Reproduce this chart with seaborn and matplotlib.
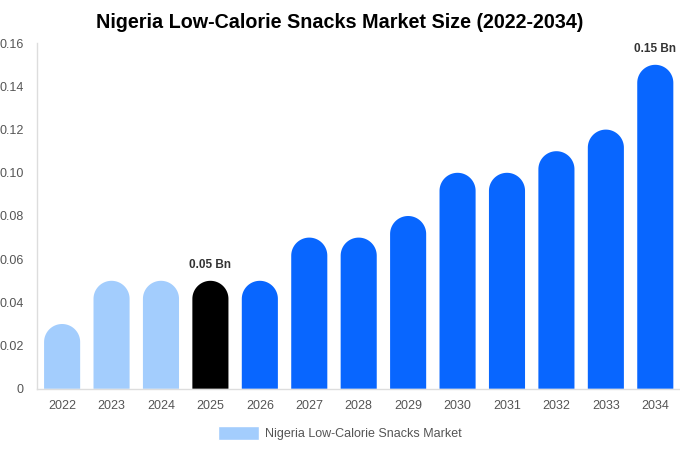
import numpy as np
import pandas as pd
import matplotlib
matplotlib.use('Agg')
import matplotlib.pyplot as plt
import seaborn as sns
from matplotlib.patches import Polygon, Patch
from matplotlib.ticker import FuncFormatter

years = ['2022', '2023', '2024', '2025', '2026', '2027', '2028',
         '2029', '2030', '2031', '2032', '2033', '2034']
values = [0.03, 0.05, 0.05, 0.05, 0.05, 0.07, 0.07, 0.08, 0.10, 0.10, 0.11, 0.12, 0.15]
labels = {'2025': '0.05 Bn', '2034': '0.15 Bn'}
series_name = 'Nigeria Low-Calorie Snacks Market'

light = '#a3cdfd'
dark = '#0866ff'
colors = [light] * 3 + ['#000000'] + [dark] * 9

df = pd.DataFrame({'year': years, 'value': values})

sns.set_style('white')
plt.rcParams['font.family'] = ['Liberation Sans', 'DejaVu Sans']

fig = plt.figure(figsize=(6.8, 4.5), dpi=100)
ax = fig.add_axes([0.055, 0.136, 0.945, 0.768])

sns.barplot(data=df, x='year', y='value', hue='year', palette=colors,
            legend=False, width=0.73, saturation=1, ax=ax)
ax.set_ylim(0, 0.16)
ax.set_xlim(-0.5, len(years) - 0.5)

# turn each seaborn bar into one shape with a semicircular top
fig.canvas.draw()
px_per_y = ax.transData.transform((0, 1))[1] - ax.transData.transform((0, 0))[1]
px_per_x = ax.transData.transform((1, 0))[0] - ax.transData.transform((0, 0))[0]
theta = np.linspace(0, np.pi, 60)
for p in list(ax.patches):
    x0 = p.get_x()
    w = p.get_width()
    h = p.get_height()
    r_x = w / 2
    r_y = (w * px_per_x / 2) / px_per_y
    cx = x0 + r_x
    cy = h - r_y
    arc = np.column_stack([cx + r_x * np.cos(theta), cy + r_y * np.sin(theta)])
    pts = np.vstack([[x0 + w, 0], arc, [x0, 0]])
    ax.add_patch(Polygon(pts, closed=True, facecolor=p.get_facecolor(), linewidth=0))
    p.remove()

for i, y in enumerate(years):
    if y in labels:
        ax.text(i, values[i] + 0.0045, labels[y], ha='center', va='bottom',
                fontsize=8.5, fontweight='bold', color='#333333')

ax.yaxis.set_major_formatter(FuncFormatter(lambda v, _: '0' if v == 0 else f'{v:.2f}'))
ax.set_yticks(np.arange(0, 0.161, 0.02))
ax.tick_params(axis='both', labelsize=9, colors='#555555', length=0)
ax.tick_params(axis='y', pad=10)
ax.tick_params(axis='x', pad=8)
ax.set_xlabel('')
ax.set_ylabel('')
for s in ['top', 'right']:
    ax.spines[s].set_visible(False)
for s in ['left', 'bottom']:
    ax.spines[s].set_color('#dddddd')
    ax.spines[s].set_linewidth(1)

fig.suptitle('Nigeria Low-Calorie Snacks Market Size (2022-2034)',
             fontsize=14.2, fontweight='bold', color='black', y=0.972)

fig.legend(handles=[Patch(facecolor=light, label=series_name)],
           loc='center', bbox_to_anchor=(0.5, 0.037), frameon=False,
           fontsize=9, labelcolor='#555555', handlelength=3.3, handleheight=1.25,
           handletextpad=0.5)

fig.savefig('out.png', dpi=100)
